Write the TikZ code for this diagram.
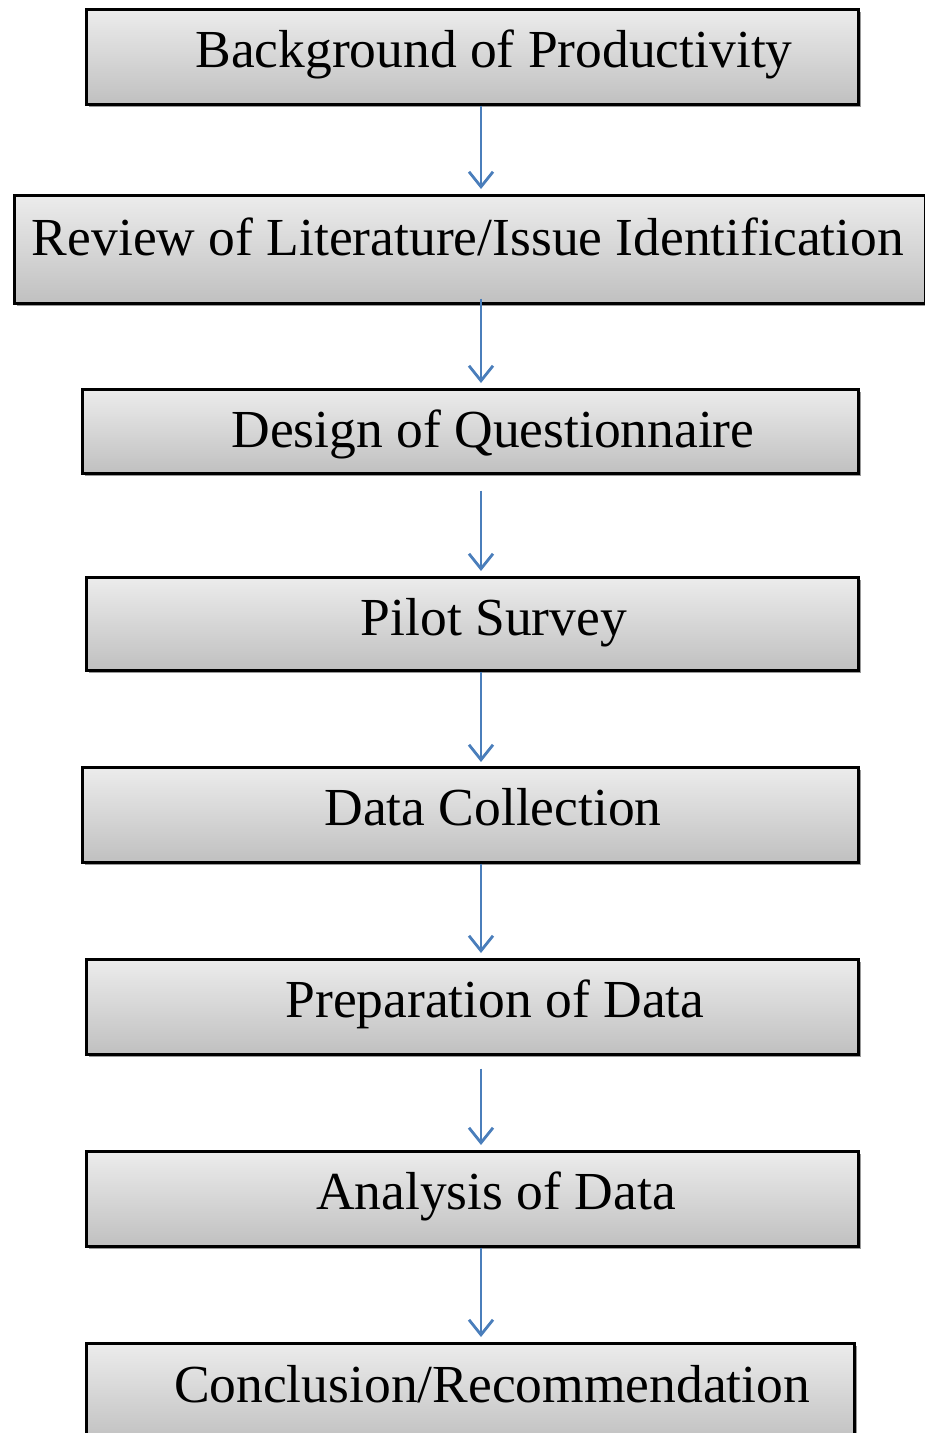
\documentclass[tikz,border=0pt]{standalone}
\usepackage{fontspec}
\setmainfont{Liberation Serif}
\usetikzlibrary{arrows.meta, shadows}
\definecolor{boxtop}{RGB}{236,236,236}
\definecolor{boxbottom}{RGB}{192,192,192}
\definecolor{flowblue}{RGB}{74,126,187}

\tikzset{
  stepbox/.style={draw=black, line width=2.6pt, top color=boxtop, bottom color=boxbottom,
    anchor=north west, inner sep=0pt,
    drop shadow={shadow xshift=3pt, shadow yshift=-3pt, fill=black!40, opacity=1}},
  steplabel/.style={anchor=base, inner sep=0pt, font=\fontsize{53.5}{60}\selectfont},
  flow/.style={flowblue, line width=2.8pt, -{Straight Barb[length=15pt, width=24pt]}}
}

\begin{document}
\begin{tikzpicture}[x=1pt, y=-1pt]
  \useasboundingbox (0,0) rectangle (925,1433);

  % Steps
  \node[stepbox, minimum width=772, minimum height=95] (bg) at (85,8) {};
  \node[steplabel] (bgtext) at (494,67) {Background of Productivity};

  \node[stepbox, minimum width=911, minimum height=108] (rev) at (13,194) {};
  \node[steplabel] (revtext) at (468,255) {Review of Literature/Issue Identification};

  \node[stepbox, minimum width=776, minimum height=84] (des) at (81,388) {};
  \node[steplabel] (destext) at (493,447) {Design of Questionnaire};

  \node[stepbox, minimum width=772, minimum height=93] (pil) at (85,576) {};
  \node[steplabel] (piltext) at (494,635) {Pilot Survey};

  \node[stepbox, minimum width=776, minimum height=95] (col) at (81,766) {};
  \node[steplabel] (coltext) at (493,825) {Data Collection};

  \node[stepbox, minimum width=772, minimum height=95] (pre) at (85,958) {};
  \node[steplabel] (pretext) at (495,1017) {Preparation of Data};

  \node[stepbox, minimum width=772, minimum height=95] (ana) at (85,1150) {};
  \node[steplabel] (anatext) at (496,1209) {Analysis of Data};

  \node[stepbox, minimum width=768, minimum height=100] (con) at (85,1342) {};
  \node[steplabel] (context) at (492,1402) {Conclusion/Recommendation};

  % Arrows
  \coordinate (axis) at (481,0);
  \draw[flow, shorten >=5pt] (bg.south -| axis) -- (rev.north -| axis);
  \draw[flow, shorten <=-6pt, shorten >=5pt] (rev.south -| axis) -- (des.north -| axis);
  \draw[flow, shorten <=16pt, shorten >=5pt] (des.south -| axis) -- (pil.north -| axis);
  \draw[flow, shorten >=4pt] (pil.south -| axis) -- (col.north -| axis);
  \draw[flow, shorten >=5pt] (col.south -| axis) -- (pre.north -| axis);
  \draw[flow, shorten <=13pt, shorten >=5pt] (pre.south -| axis) -- (ana.north -| axis);
  \draw[flow, shorten >=5pt] (ana.south -| axis) -- (con.north -| axis);
\end{tikzpicture}
\end{document}
